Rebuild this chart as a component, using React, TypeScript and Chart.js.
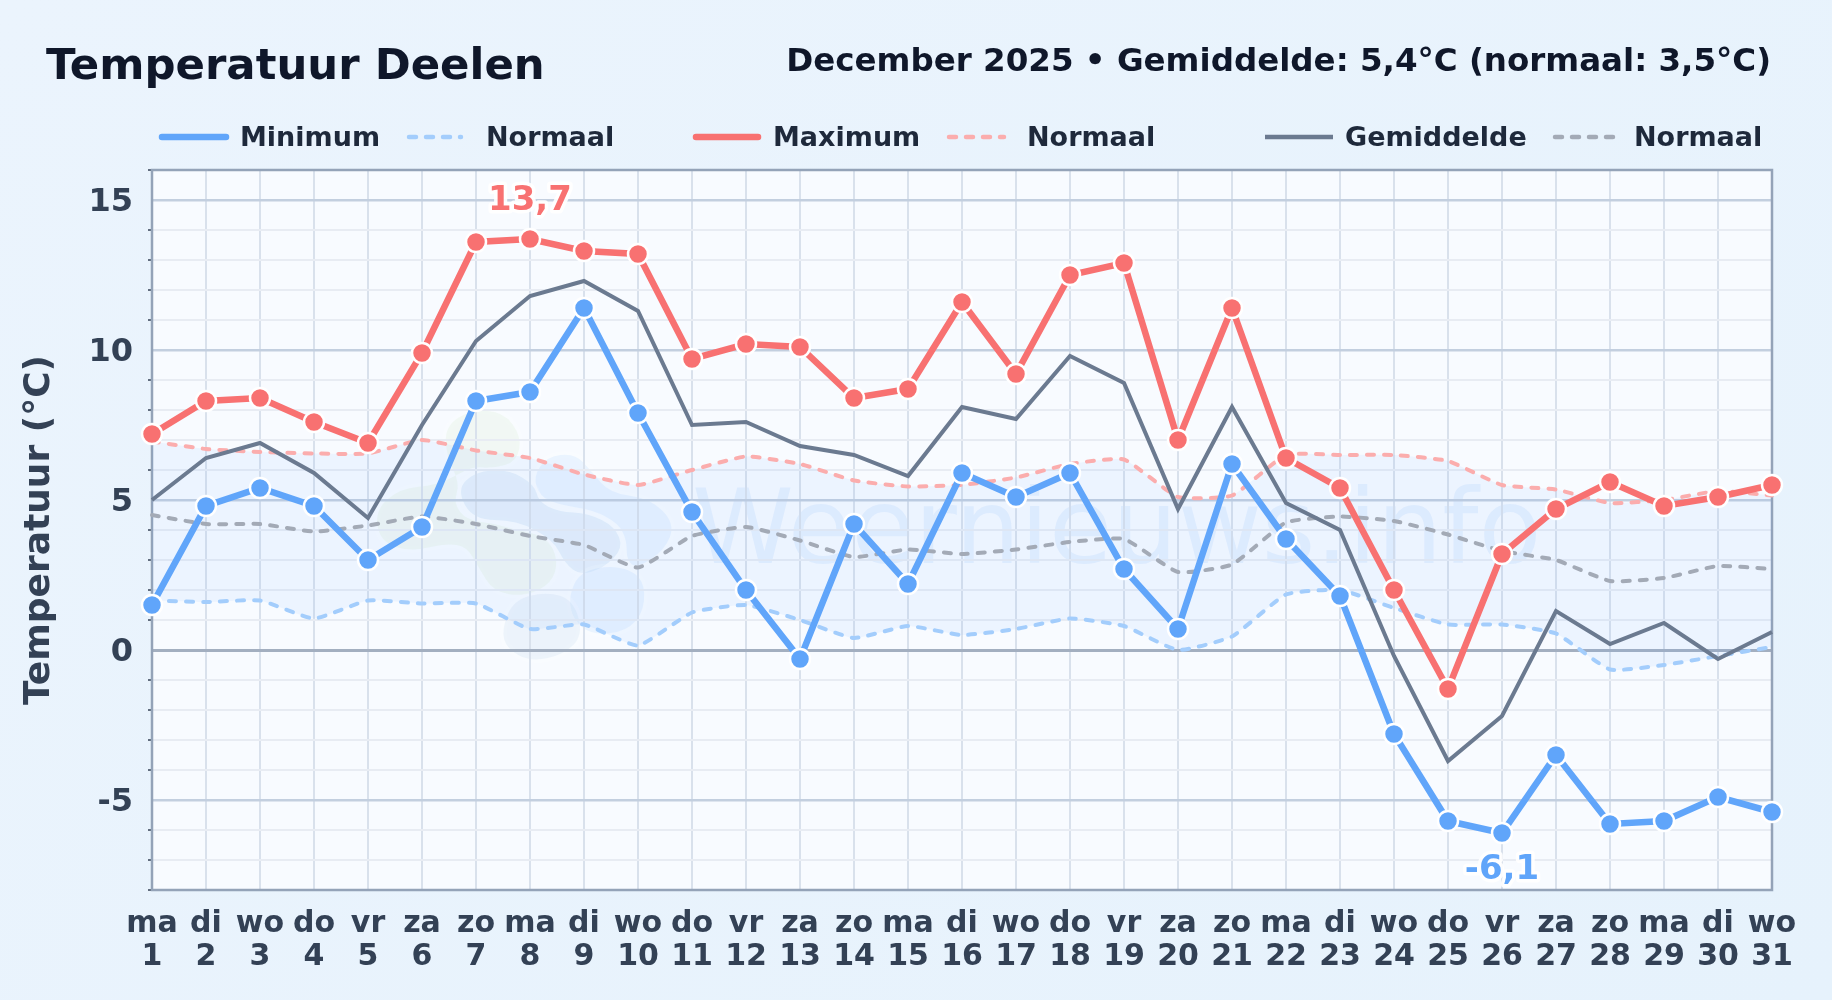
import React, { useEffect, useRef } from "react";
import { Chart, registerables } from "chart.js";

Chart.register(...registerables);

const TITLE = "Temperatuur Deelen";
const SUBTITLE = "December 2025 • Gemiddelde: 5,4°C (normaal: 3,5°C)";
const WATERMARK = "Weernieuws.info";
const Y_TITLE = "Temperatuur (°C)";

const weekdays = ["ma","di","wo","do","vr","za","zo","ma","di","wo","do","vr","za","zo","ma","di","wo","do","vr","za","zo","ma","di","wo","do","vr","za","zo","ma","di","wo"];
const days = ["1","2","3","4","5","6","7","8","9","10","11","12","13","14","15","16","17","18","19","20","21","22","23","24","25","26","27","28","29","30","31"];

const minimum = [1.5,4.8,5.4,4.8,3.0,4.1,8.3,8.6,11.4,7.9,4.6,2.0,-0.3,4.2,2.2,5.9,5.1,5.9,2.7,0.7,6.2,3.7,1.8,-2.8,-5.7,-6.1,-3.5,-5.8,-5.7,-4.9,-5.4];
const maximum = [7.2,8.3,8.4,7.6,6.9,9.9,13.6,13.7,13.3,13.2,9.7,10.2,10.1,8.4,8.7,11.6,9.2,12.5,12.9,7.0,11.4,6.4,5.4,2.0,-1.3,3.2,4.7,5.6,4.8,5.1,5.5];
const gemiddelde = [5.0,6.4,6.9,5.9,4.4,7.5,10.3,11.8,12.3,11.3,7.5,7.6,6.8,6.5,5.8,8.1,7.7,9.8,8.9,4.7,8.1,4.9,4.0,-0.2,-3.7,-2.2,1.3,0.2,0.9,-0.3,0.6];
const normaalMin = [1.65,1.6,1.65,1.05,1.65,1.55,1.55,0.7,0.85,0.15,1.25,1.5,1.0,0.4,0.8,0.5,0.7,1.05,0.8,0.0,0.45,1.85,2.0,1.4,0.85,0.85,0.55,-0.65,-0.5,-0.2,0.1];
const normaalMax = [6.95,6.7,6.6,6.55,6.55,7.0,6.65,6.4,5.85,5.5,6.0,6.45,6.2,5.65,5.45,5.5,5.75,6.2,6.35,5.1,5.15,6.5,6.5,6.5,6.3,5.5,5.35,4.9,5.0,5.3,5.15];
const normaalGem = [4.5,4.2,4.2,3.95,4.15,4.45,4.2,3.8,3.5,2.75,3.8,4.1,3.65,3.1,3.35,3.2,3.35,3.6,3.7,2.6,2.85,4.25,4.45,4.3,3.85,3.3,3.0,2.3,2.4,2.8,2.7];

const FONT = '"DejaVu Sans", sans-serif';
const BLUE = "#60a5fa";
const RED = "#f87171";
const SLATE = "#6b7a90";
const BLUE_N = "#a3cdfc";
const RED_N = "#fbadad";
const GRAY_N = "#a3aab6";
const DASH = [7, 10];

// x of swatch start, swatch end and text for each legend entry
const legendSlots = [
  [162, 226, 240], [409, 461, 486],
  [696, 758, 773], [949, 1004, 1027],
  [1265, 1333, 1345], [1555, 1616, 1634],
];

const blobs: [string, number[][]][] = [
  ["rgba(196,226,170,0.13)", [[255,80],[330,30],[430,35],[485,110],[470,185],[400,205],[340,200],[300,220],[230,255],[120,265],[45,330],[60,425],[150,455],[260,430],[320,440],[355,500],[400,575],[495,590],[575,550],[595,480],[560,410],[470,390],[400,370],[320,360],[280,310],[300,250],[260,170]]],
  ["rgba(147,197,253,0.14)", [[520,230],[560,170],[645,160],[695,215],[750,280],[870,295],[945,370],[915,450],[830,505],[800,480],[800,420],[775,370],[700,330],[600,315],[540,290]]],
  ["rgba(120,170,225,0.14)", [[290,270],[345,215],[445,208],[525,255],[535,305],[595,335],[685,340],[765,380],[790,445],[730,505],[660,525],[615,490],[580,420],[470,360],[340,360]]],
  ["rgba(147,197,253,0.14)", [[625,590],[660,515],[765,495],[850,530],[855,630],[800,695],[695,705],[640,660]]],
  ["rgba(150,180,215,0.11)", [[425,690],[460,600],[560,575],[640,600],[670,705],[610,765],[510,785],[440,745]]],
];

const paperPlugin = {
  id: "paper",
  beforeDraw(chart: any) {
    const { ctx, chartArea: a } = chart;
    ctx.save();
    ctx.fillStyle = "#f8fbff";
    ctx.fillRect(a.left, a.top, a.right - a.left, a.bottom - a.top);
    ctx.save();
    ctx.beginPath();
    ctx.rect(a.left, a.top, a.right - a.left, a.bottom - a.top);
    ctx.clip();
    ctx.translate(360, 400);
    ctx.scale(1 / 3, 1 / 3);
    for (const [color, pts] of blobs) {
      ctx.beginPath();
      const n = pts.length;
      ctx.moveTo((pts[n - 1][0] + pts[0][0]) / 2, (pts[n - 1][1] + pts[0][1]) / 2);
      for (let i = 0; i < n; i++) {
        const next = pts[(i + 1) % n];
        ctx.quadraticCurveTo(pts[i][0], pts[i][1], (pts[i][0] + next[0]) / 2, (pts[i][1] + next[1]) / 2);
      }
      ctx.closePath();
      ctx.strokeStyle = "rgba(255,255,255,0.22)";
      ctx.lineWidth = 22;
      ctx.stroke();
      ctx.fillStyle = color;
      ctx.fill();
    }
    ctx.restore();
    ctx.font = `103px ${FONT}`;
    ctx.textAlign = "left";
    ctx.textBaseline = "alphabetic";
    ctx.fillStyle = "rgba(96,165,250,0.11)";
    ctx.fillText(WATERMARK, 692, 563);
    ctx.restore();
  },
};

const framePlugin = {
  id: "frame",
  beforeDatasetsDraw(chart: any) {
    const { ctx, chartArea: a } = chart;
    ctx.save();
    ctx.strokeStyle = "#94a3b8";
    ctx.lineWidth = 2.5;
    ctx.strokeRect(a.left, a.top, a.right - a.left, a.bottom - a.top);
    ctx.restore();
  },
};

const extremesPlugin = {
  id: "extremes",
  afterDatasetsDraw(chart: any) {
    const { ctx } = chart;
    const put = (dsIndex: number, idx: number, color: string, dy: number) => {
      const pt = chart.getDatasetMeta(dsIndex).data[idx];
      const v = chart.data.datasets[dsIndex].data[idx];
      const text = String(v.toFixed(1)).replace(".", ",");
      ctx.save();
      ctx.font = `bold 34px ${FONT}`;
      ctx.textAlign = "center";
      ctx.textBaseline = "middle";
      ctx.lineJoin = "round";
      ctx.strokeStyle = "rgba(255,255,255,0.9)";
      ctx.lineWidth = 7;
      ctx.strokeText(text, pt.x, pt.y + dy);
      ctx.fillStyle = color;
      ctx.fillText(text, pt.x, pt.y + dy);
      ctx.restore();
    };
    put(2, maximum.indexOf(Math.max(...maximum)), RED, -38);
    put(0, minimum.indexOf(Math.min(...minimum)), BLUE, 37);
  },
};

const headerPlugin = {
  id: "header",
  afterDraw(chart: any) {
    const { ctx } = chart;
    ctx.save();
    ctx.textBaseline = "alphabetic";
    ctx.fillStyle = "#0f172a";
    ctx.font = `bold 43.4px ${FONT}`;
    ctx.textAlign = "left";
    ctx.fillText(TITLE, 46, 79);
    ctx.font = `bold 32.5px ${FONT}`;
    ctx.textAlign = "right";
    ctx.fillText(SUBTITLE, 1771, 71);
    ctx.font = `bold 27px ${FONT}`;
    ctx.textAlign = "left";
    ctx.textBaseline = "middle";
    chart.data.datasets.forEach((ds: any, i: number) => {
      const [x0, x1, tx] = legendSlots[i];
      ctx.save();
      ctx.beginPath();
      ctx.moveTo(x0, 137);
      ctx.lineTo(x1, 137);
      ctx.strokeStyle = ds.borderColor;
      const dashed = !!ds.borderDash;
      const isMean = ds.pointRadius === 0 && !dashed;
      ctx.lineWidth = dashed ? 4.5 : isMean ? 4.5 : 6.5;
      ctx.lineCap = isMean ? "butt" : "round";
      if (dashed) ctx.setLineDash([7, 10]);
      ctx.stroke();
      ctx.restore();
      ctx.fillStyle = "#1e293b";
      ctx.fillText(ds.label, tx, 139);
    });
    ctx.restore();
  },
};

export default function App() {
  const ref = useRef<HTMLCanvasElement | null>(null);
  useEffect(() => {
    if (!ref.current) return;
    const marker = (color: string) => ({
      borderColor: color,
      backgroundColor: color,
      pointBackgroundColor: color,
      pointBorderColor: "#ffffff",
      pointRadius: 10,
      pointBorderWidth: 2.5,
      borderWidth: 6.5,
      tension: 0,
    });
    const normal = (color: string) => ({
      borderColor: color,
      borderWidth: 4,
      borderDash: DASH,
      borderCapStyle: "round",
      pointRadius: 0,
      tension: 0.15,
    });
    const chart = new Chart(ref.current, {
      type: "line",
      data: {
        labels: weekdays.map((d, i) => [d, days[i]]),
        datasets: [
          { label: "Minimum", data: minimum, order: 1, ...marker(BLUE) },
          { label: "Normaal", data: normaalMin, order: 4, ...normal(BLUE_N) },
          { label: "Maximum", data: maximum, order: 0, ...marker(RED) },
          {
            label: "Normaal",
            data: normaalMax,
            order: 5,
            ...normal(RED_N),
            fill: { target: 1 },
            backgroundColor: "rgba(96,165,250,0.08)",
          },
          { label: "Gemiddelde", data: gemiddelde, order: 2, borderColor: SLATE, borderWidth: 4, pointRadius: 0, tension: 0 },
          { label: "Normaal", data: normaalGem, order: 3, ...normal(GRAY_N) },
        ],
      } as any,
      options: {
        responsive: false,
        animation: false,
        clip: false,
        layout: { padding: { left: 0, top: 170, right: 60, bottom: 0 } },
        plugins: {
          legend: { display: false },
          title: { display: false },
          tooltip: { enabled: false },
        },
        scales: {
          x: {
            type: "category",
            offset: false,
            grid: { color: "#d9e1ec", lineWidth: 2, drawTicks: false },
            border: { display: false },
            ticks: {
              autoSkip: false,
              maxRotation: 0,
              minRotation: 0,
              padding: 17,
              color: "#334155",
              font: { family: FONT, size: 30, weight: "bold", lineHeight: 1.12 },
            },
            afterFit(s: any) { s.height = 110; },
          },
          y: {
            min: -8,
            max: 16,
            grid: {
              color: (c: any) => {
                const v = c.tick?.value;
                if (v === 0) return "#a3afc0";
                return v % 5 === 0 ? "#c3cfdf" : "#e8ecf3";
              },
              lineWidth: (c: any) => (c.tick?.value === 0 ? 3 : c.tick?.value % 5 === 0 ? 2.5 : 2),
              tickColor: (c: any) => (c.tick?.value % 5 === 0 ? "rgba(0,0,0,0)" : "#334155"),
              tickWidth: 1.5,
              tickLength: 4,
            },
            border: { display: false },
            ticks: {
              stepSize: 1,
              autoSkip: false,
              padding: 15,
              labelOffset: 3,
              color: "#334155",
              font: { family: FONT, size: 32, weight: "bold" },
              callback: (v: any) => (Number(v) % 5 === 0 ? String(v) : ""),
            },
            title: {
              display: true,
              text: Y_TITLE,
              color: "#334155",
              font: { family: FONT, size: 36, weight: "bold" },
              padding: { top: 18, bottom: 0 },
            },
            afterFit(s: any) { s.width = 152; },
          },
        },
      } as any,
      plugins: [paperPlugin, framePlugin, extremesPlugin, headerPlugin],
    });
    return () => chart.destroy();
  }, []);
  return (
    <div style={{ position: "relative", width: 1832, height: 1000, background: "linear-gradient(135deg,#ebf4fd,#e6f2fc)", overflow: "hidden" }}>
      <style>{"html,body{margin:0;padding:0}"}</style>
      <canvas ref={ref} width={1832} height={1000} style={{ display: "block", width: 1832, height: 1000 }} />
    </div>
  );
}
